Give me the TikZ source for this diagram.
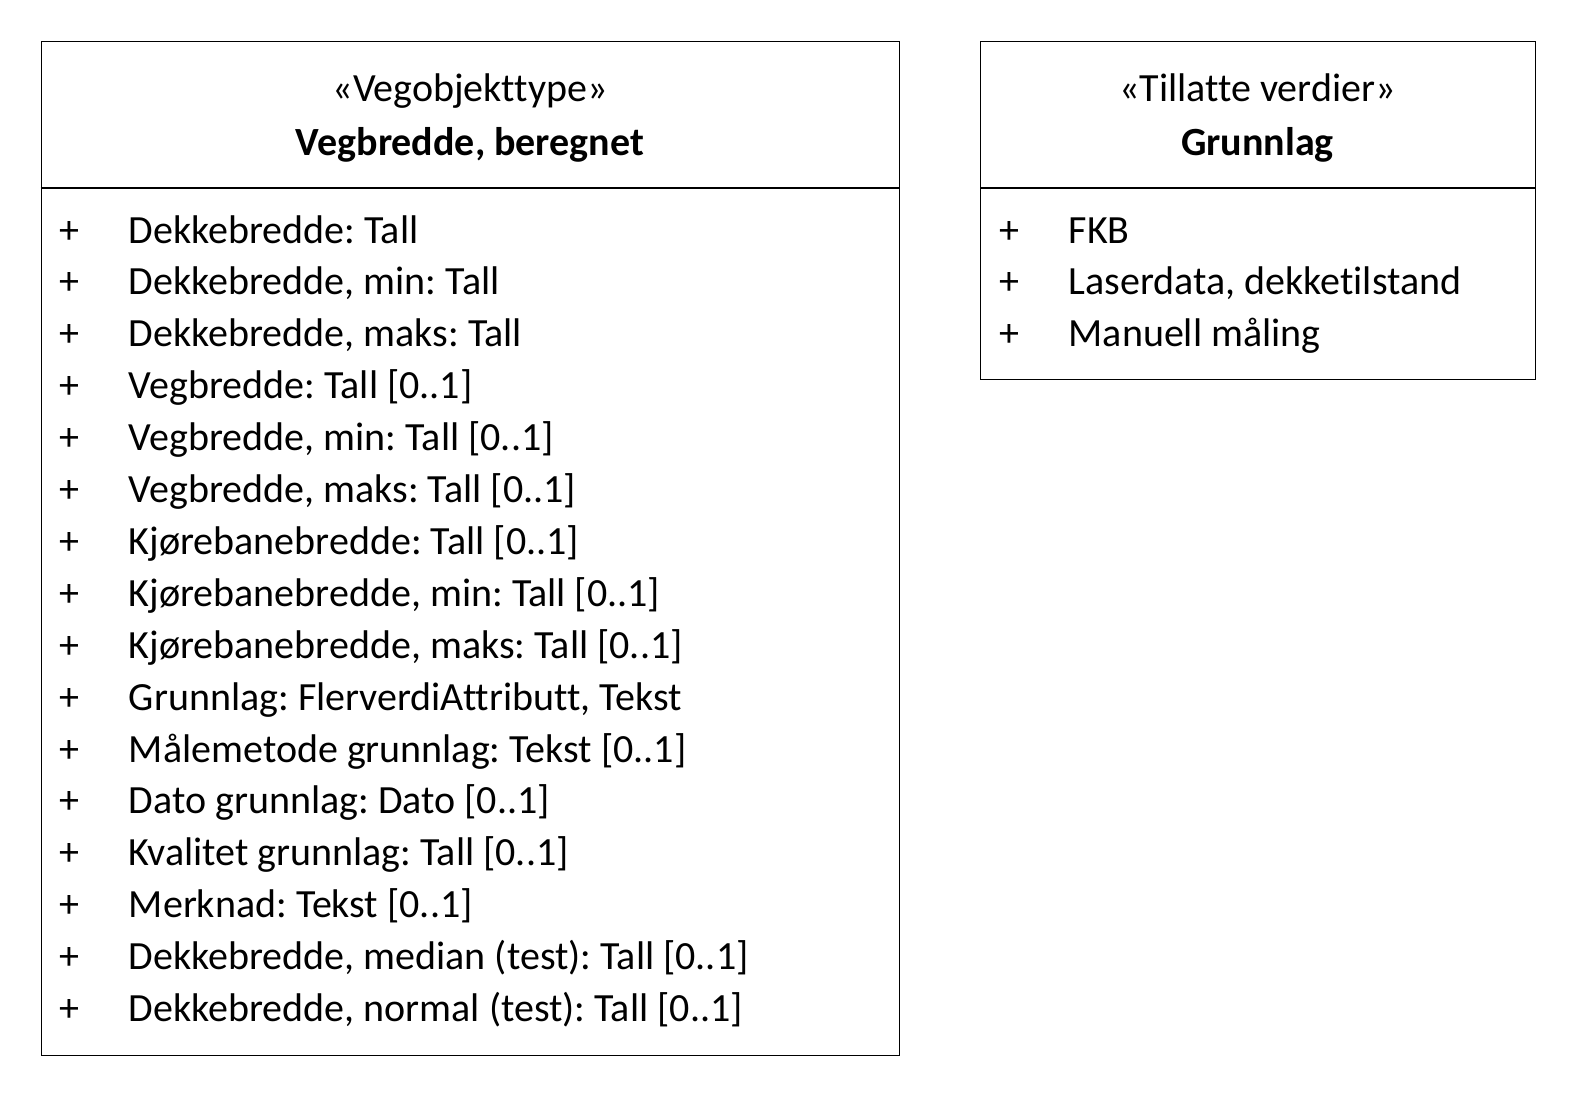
\documentclass[tikz,border=0pt]{standalone}
\usepackage{fontspec}
\setmainfont[Ligatures=NoCommon]{Carlito}
\frenchspacing
\begin{document}
\begin{tikzpicture}[x=1pt,y=-1pt,
  umlbox/.style={draw=black,line width=1.2pt,inner sep=0pt,anchor=north west},
  attr/.style={anchor=base west,inner sep=0pt,font=\fontsize{40}{48}\selectfont},
  hdr/.style={anchor=base,inner sep=0pt,font=\fontsize{40}{48}\selectfont},
  sep/.style={line width=1.2pt}]
\useasboundingbox (0,0) rectangle (1576,1096);
% left class
\node[umlbox,minimum width=858.5pt,minimum height=1014.5pt] (vb) at (40.5,40.5) {};
\coordinate (vsl) at (40.5,188);
\coordinate (vsr) at (899,188);
\draw[sep] (vsl) -- (vsr);
\node[hdr] (vst) at (470,101.5) {«Vegobjekttype»};
\node[hdr,font=\fontsize{40}{48}\selectfont\bfseries] (vnm) at (470,155) {Vegbredde, beregnet};
\foreach \t [count=\i from 0] in {
  Dekkebredde: Tall,
  {Dekkebredde, min: Tall},
  {Dekkebredde, maks: Tall},
  {Vegbredde: Tall [0..1]},
  {Vegbredde, min: Tall [0..1]},
  {Vegbredde, maks: Tall [0..1]},
  {Kjørebanebredde: Tall [0..1]},
  {Kjørebanebredde, min: Tall [0..1]},
  {Kjørebanebredde, maks: Tall [0..1]},
  {Grunnlag: FlerverdiAttributt, Tekst},
  {Målemetode grunnlag: Tekst [0..1]},
  {Dato grunnlag: Dato [0..1]},
  {Kvalitet grunnlag: Tall [0..1]},
  {Merknad: Tekst [0..1]},
  {Dekkebredde, median (test): Tall [0..1]},
  {Dekkebredde, normal (test): Tall [0..1]}}{
  \node[attr] (vp\i) at (59.5,243+51.9*\i) {+};
  \node[attr] (va\i) at (128.7,243+51.9*\i) {\t};
}
% right class
\node[umlbox,minimum width=555pt,minimum height=338.5pt] (gb) at (980,40.5) {};
\coordinate (gsl) at (980,188);
\coordinate (gsr) at (1535,188);
\draw[sep] (gsl) -- (gsr);
\node[hdr] (gst) at (1257.5,101.5) {«Tillatte verdier»};
\node[hdr,font=\fontsize{40}{48}\selectfont\bfseries] (gnm) at (1257.5,155) {Grunnlag};
\foreach \t [count=\i from 0] in {FKB,{Laserdata, dekketilstand},Manuell måling}{
  \node[attr] (gp\i) at (999,243+51.9*\i) {+};
  \node[attr] (ga\i) at (1068.5,243+51.9*\i) {\t};
}
\end{tikzpicture}
\end{document}
